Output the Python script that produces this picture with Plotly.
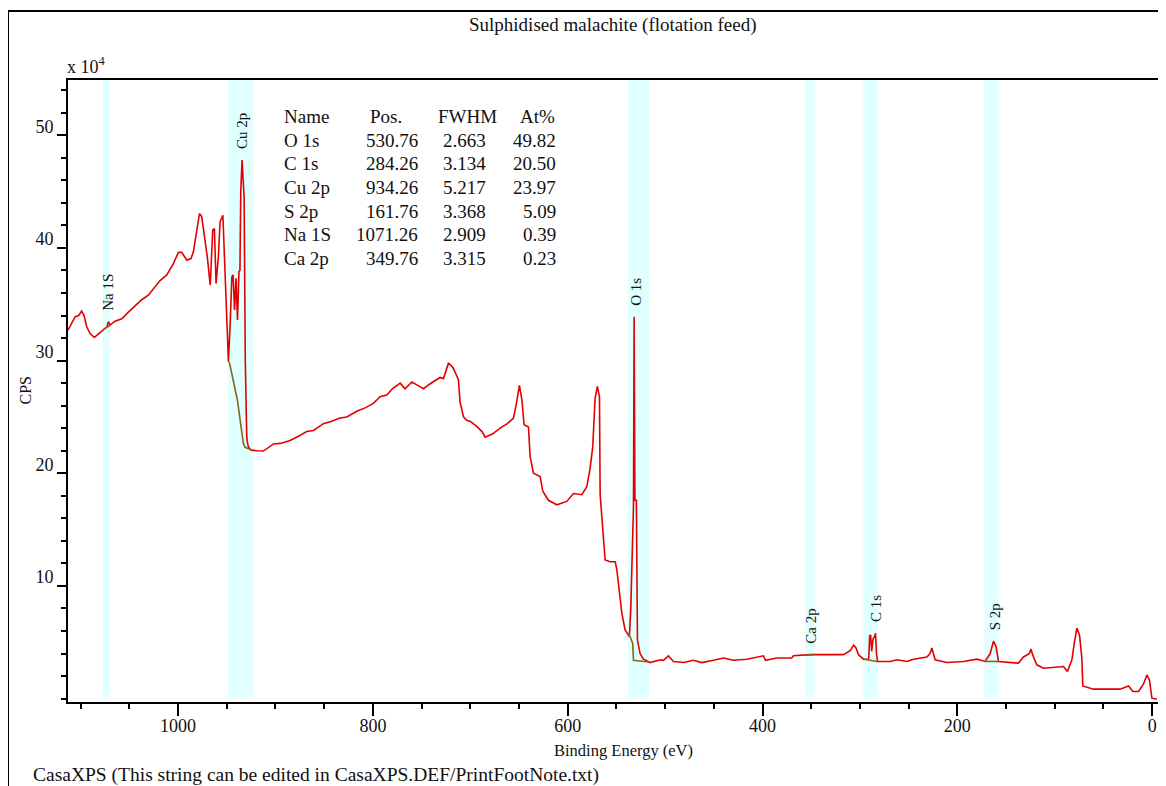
import plotly.graph_objects as go

# ---------------- data ----------------
# survey spectrum: binding energy (eV) and counts (CPS, in units of 1e4)
be = [1113, 1109, 1105.6, 1102, 1099, 1096.5, 1093.8, 1090.3, 1086, 1082, 1076.6, 1073, 1071.5, 1069.8,
      1064.7, 1057.8, 1051, 1044, 1037.3, 1030.5, 1023.6, 1018.5, 1011.6, 1004.8, 999.7, 996.2, 991,
      986.7, 984.3, 981, 978, 975.7, 972.3, 970, 967, 964.4, 962.7, 961, 958.6, 956.9, 954, 952.8, 951,
      949.4, 948.3, 946.5, 944.8, 943.5, 942, 940.5, 939, 937.5, 936.5, 935.6, 934.3, 933.2, 932.2,
      931, 930.5, 929.5, 928.5, 927.8, 925, 922.7, 919, 912.4, 907, 902, 895, 885, 876, 868, 861,
      850.8, 843, 833.7, 826.8, 816.5, 808, 799.5, 792.6, 785.7, 780, 772, 767, 760, 754, 748, 742,
      737.9, 731, 727.6, 724.5, 722.5, 720, 717.3, 712.2, 710.5, 707, 703.6, 700, 694, 688, 684.8,
      677, 669.4, 662, 655.7, 653, 649.6, 647, 644.8, 640.3, 638.6, 635.2, 628.3, 625.6, 619.8,
      611.2, 601, 594, 585.5, 580.4, 577, 574.3, 571.9, 569.5, 567.4, 566.7, 564, 561.6, 556.5,
      551.3, 549.5, 546.9, 544.5, 541.1, 536.7, 535.3, 533.2, 532.5, 531.8, 531.0, 529.5, 528.4,
      525.7, 522.3, 515.4, 505, 501.7, 496.6, 491.5, 481, 471, 462.3, 450.4, 440, 429.9, 416.1,
      399, 397, 385.3, 370, 368.3, 351, 330, 317, 310, 306.5, 304, 301.5, 296.4, 293, 291, 290,
      289, 288, 286.5, 285, 284, 283, 282, 269, 262, 251.8, 245, 231.3, 228, 226.2, 224.5, 222.8,
      210.8, 193.7, 180, 171.5, 166.3, 162.9, 160.2, 157.8, 137.3, 132.1, 126, 124.5, 121.9, 118.4,
      111.6, 91, 87, 82.4, 80, 77.3, 74.6, 72.2, 71.2, 60.3, 32.9, 24.3, 19.8, 14, 8.9, 5.4, 2.8,
      0.3, -4.8]
cps = [32.7, 33.4, 33.9, 34.0, 34.4, 34.0, 33.0, 32.4, 32.05, 32.35, 32.7, 33.0, 33.45, 33.15,
       33.5, 33.7, 34.3, 34.9, 35.4, 35.8, 36.5, 37.1, 37.6, 38.6, 39.6, 39.6, 38.9,
       39.05, 39.65, 41.6, 43.05, 42.75, 40.7, 39.2, 36.7, 41.6, 41.7, 36.85, 39.2, 42.3, 42.9, 39.8, 35.4,
       30.9, 29.9, 33.3, 37.4, 37.6, 34.5, 37.3, 33.6, 37.9, 38.0, 45.1, 47.8, 46.0, 44.5,
       30.0, 27.1, 23.2, 22.6, 22.35, 22.05, 22.05, 22.0, 21.97, 22.3, 22.6, 22.65, 22.9, 23.3, 23.7, 23.8,
       24.4, 24.6, 24.9, 25.0, 25.5, 25.8, 26.2, 26.8, 26.95, 27.5, 28.0, 27.5, 28.1, 27.8, 27.5, 27.9,
       28.1, 28.5, 28.4, 29.2, 29.75, 29.6, 29.3, 28.3, 26.3, 25.0, 24.7, 24.6, 24.2, 23.7, 23.2,
       23.5, 24.0, 24.4, 24.9, 26.05, 27.8, 26.5, 24.3, 24.1, 21.5, 20.0, 19.7, 18.4, 17.6,
       17.2, 17.5, 18.2, 18.1, 18.8, 20.45, 22.35, 26.65, 27.7, 26.8, 18.1, 15.3, 12.3, 12.15,
       12.15, 11.4, 9.65, 7.6, 6.1, 5.5, 7.9, 16.7, 17.0, 33.9, 17.6, 17.6, 5.2,
       4.0, 3.5, 3.2, 3.45, 3.4, 3.8, 3.3, 3.2, 3.4, 3.2, 3.4, 3.6, 3.4, 3.5,
       3.8, 3.4, 3.6, 3.6, 3.8, 3.9, 3.9, 3.9, 4.25, 4.75, 4.5, 3.9, 3.5, 3.5, 3.5, 5.6,
       5.6, 4.2, 5.3, 5.5, 5.8, 4.0, 3.3, 3.3, 3.45, 3.3, 3.5, 3.7, 4.0, 4.5, 4.0, 3.45,
       3.2, 3.3, 3.5, 3.3, 4.0, 5.1, 4.6, 3.3, 3.15, 3.7, 4.0, 4.4, 3.7, 3.0,
       2.7, 2.85, 2.4, 3.45, 4.9, 6.25, 5.65, 3.6, 1.13, 0.84, 0.84, 1.13, 0.63, 0.63, 1.3, 2.1, 1.66,
       0.04, -0.05]

# Shirley-type backgrounds under the fitted regions (None separates regions)
bg_be = [1077, 1070, None,
         947.5, 943.2, 939.1, 935.3, 933, 931.2, 924, None,
         538, 535.5, 533.3, 532.5, 517, None,
         356, 347, None,
         296, 282.5, None,
         172, 158]
bg_cps = [32.75, 33.1, None,
          29.9, 28.3, 26.5, 24.1, 22.65, 22.3, 22.05, None,
          5.8, 5.4, 4.9, 3.4, 3.25, None,
          3.85, 3.9, None,
          3.5, 3.3, None,
          3.3, 3.3]

# quantification table
names = ["O 1s", "C 1s", "Cu 2p", "S 2p", "Na 1S", "Ca 2p"]
pos_txt = ["530.76", "284.26", "934.26", "161.76", "1071.26", "349.76"]
fwhm_txt = ["2.663", "3.134", "5.217", "3.368", "2.909", "3.315"]
at_txt = ["49.82", "20.50", "23.97", "5.09", "0.39", "0.23"]
headers = ["Name", "Pos.", "FWHM", "At%"]

# integration regions (eV)
band_hi = [538.3, 296.4, 949.0, 172.2, 1077.3, 356.3]
band_lo = [516.4, 282.0, 923.3, 157.8, 1069.8, 346.7]

x_ticks = [0, 200, 400, 600, 800, 1000]
y_ticks = [10, 20, 30, 40, 50]

# ---------------- layout helpers ----------------
# target positions measured in page pixels; the page body adds an 8 px offset
W, H = 1166, 786
OFF = 8
L, R, T, B = 68, 1159, 80, 702
def fx(px):
    return (px - L) / (R - L)
def fy(py):
    return (B - py) / (B - T)

SERIF = "Liberation Serif, Times New Roman, serif"
RED = "#e30000"
BROWN = "#8a6418"
CYAN = "#e0ffff"
INK = "#111"

fig = go.Figure()

for lo, hi in zip(band_lo, band_hi):
    fig.add_shape(type="rect", xref="x", yref="y", x0=hi, x1=lo, y0=0.15, y1=54.9,
                  fillcolor=CYAN, line=dict(width=0), layer="below")

fig.add_trace(go.Scatter(x=be, y=cps, mode="lines", line=dict(color=RED, width=1.6),
                         hoverinfo="skip"))
fig.add_trace(go.Scatter(x=bg_be, y=bg_cps, mode="lines", line=dict(color=BROWN, width=1.6),
                         connectgaps=False, hoverinfo="skip"))

ann = []
# peak labels, placed above the spectrum maximum inside each region
for nm, p, lo, hi in zip(names, pos_txt, band_lo, band_hi):
    top = max(c for e, c in zip(be, cps) if lo <= e <= hi)
    ann.append(dict(x=float(p), y=top, xref="x", yref="y", text=nm, textangle=-90,
                    showarrow=False, xanchor="center", yanchor="bottom", yshift=9,
                    font=dict(family=SERIF, size=15, color=INK)))

# table
row_y = [116.7 + 23.6 * i for i in range(7)]
tf = dict(family=SERIF, size=19, color=INK)
hdr_x = [282, 368, 436, 518]
for h, hx in zip(headers, hdr_x):
    ann.append(dict(x=fx(hx), y=fy(row_y[0]), xref="paper", yref="paper", text=h,
                    showarrow=False, xanchor="left", yanchor="middle", font=tf))
col_right = [420, 488, 558]
for i in range(len(names)):
    yy = fy(row_y[i + 1])
    ann.append(dict(x=fx(282), y=yy, xref="paper", yref="paper", text=names[i],
                    showarrow=False, xanchor="left", yanchor="middle", font=tf))
    for txt, cx in zip([pos_txt[i], fwhm_txt[i], at_txt[i]], col_right):
        ann.append(dict(x=fx(cx), y=yy, xref="paper", yref="paper", text=txt,
                        showarrow=False, xanchor="right", yanchor="middle", font=tf))

# titles and notes
ann.append(dict(x=fx(613), y=fy(25), xref="paper", yref="paper",
                text="Sulphidised malachite (flotation feed)", showarrow=False,
                xanchor="center", yanchor="middle", font=dict(family=SERIF, size=19, color=INK)))
ann.append(dict(x=fx(623), y=fy(750), xref="paper", yref="paper",
                text="Binding Energy (eV)", showarrow=False,
                xanchor="center", yanchor="middle", font=dict(family=SERIF, size=16.5, color=INK)))
ann.append(dict(x=fx(31), y=fy(775), xref="paper", yref="paper",
                text="CasaXPS (This string can be edited in CasaXPS.DEF/PrintFootNote.txt)",
                showarrow=False, xanchor="left", yanchor="middle",
                font=dict(family=SERIF, size=19.5, color=INK)))
ann.append(dict(x=fx(24.5), y=fy(391), xref="paper", yref="paper", text="CPS", textangle=-90,
                showarrow=False, xanchor="center", yanchor="middle",
                font=dict(family=SERIF, size=16, color=INK)))
ann.append(dict(x=fx(65), y=fy(79), xref="paper", yref="paper", text="x 10<sup>4</sup>",
                showarrow=False, xanchor="left", yanchor="bottom",
                font=dict(family=SERIF, size=18, color=INK)))

# outer frame (left and top edges)
fig.add_shape(type="line", xref="paper", yref="paper", x0=fx(8), x1=fx(8), y0=fy(11), y1=fy(800),
              line=dict(color="black", width=2))
fig.add_shape(type="line", xref="paper", yref="paper", x0=fx(7), x1=fx(1175), y0=fy(11), y1=fy(11),
              line=dict(color="black", width=2))

fig.update_layout(
    width=W, height=H,
    margin=dict(l=L - OFF, r=W - (R - OFF), t=T - OFF, b=H - (B - OFF)),
    paper_bgcolor="white", plot_bgcolor="white",
    showlegend=False,
    annotations=ann,
    xaxis=dict(range=[1113, -7], tickmode="array", tickvals=x_ticks,
               ticks="outside", ticklen=12, tickwidth=1.5, tickcolor="black",
               showline=True, linewidth=2, linecolor="black", mirror=True,
               showgrid=False, zeroline=False, ticklabelstandoff=-6,
               tickfont=dict(family=SERIF, size=18, color=INK),
               minor=dict(tickmode="linear", tick0=0, dtick=50, ticks="outside",
                          ticklen=5, tickwidth=1.5, tickcolor="black", showgrid=False)),
    yaxis=dict(range=[-0.3, 54.9], tickmode="array", tickvals=y_ticks,
               ticks="outside", ticklen=9, tickwidth=1.5, tickcolor="black",
               showline=True, linewidth=2, linecolor="black", mirror=True,
               showgrid=False, zeroline=False, ticklabelshift=-9,
               tickfont=dict(family=SERIF, size=18, color=INK),
               minor=dict(tickmode="linear", tick0=0, dtick=2, ticks="outside",
                          ticklen=5, tickwidth=1.5, tickcolor="black", showgrid=False)),
)

fig.write_html("out.html")
